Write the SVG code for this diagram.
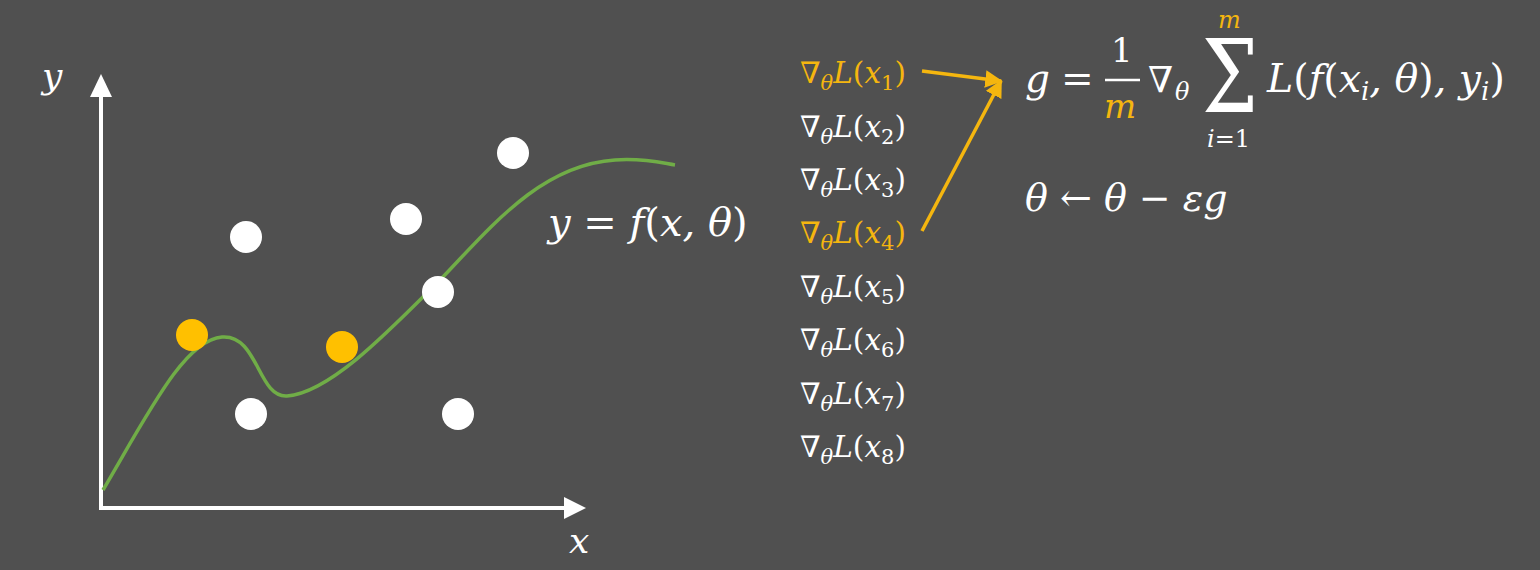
<svg xmlns="http://www.w3.org/2000/svg" width="1540" height="570" viewBox="0 0 1540 570">
<defs>
<style>
.m{font-family:"DejaVu Serif","Liberation Serif",serif;font-style:italic;fill:#ffffff}
.up{font-style:normal}
.o{fill:#F5B60F}
.g{font-size:29.5px}
.axis{stroke:#ffffff;stroke-width:4;fill:none}
.dotw{fill:#ffffff}
.doto{fill:#FFC000}
.oarr{stroke:#F5B60F;stroke-width:3.5;fill:none}
</style>
<marker id="ah" viewBox="0 0 10 10" refX="9" refY="5" markerWidth="5" markerHeight="5" orient="auto" markerUnits="strokeWidth">
<path d="M0,0 L10,5 L0,10 z" fill="#F5B60F"/>
</marker>
</defs>
<rect width="1540" height="570" fill="#505050"/>

<g id="axes">
<line class="axis" x1="101" y1="510" x2="101" y2="95"/>
<polygon points="90,97 112,97 101,74" fill="#ffffff"/>
<line class="axis" x1="99" y1="508" x2="566" y2="508"/>
<polygon points="564,497 564,519 586,508" fill="#ffffff"/>
<text class="m" x="42" y="88" font-size="36">y</text>
<text class="m" x="569" y="553" font-size="36">x</text>
</g>

<g id="curve">
<path d="M103,490 C150,410 185,340 222,337 C258,334 258,398 287,396 C330,393 390,330 440,280 C490,228 540,165 615,160 C645,158 662,163 675,165" stroke="#70AD47" stroke-width="3.5" fill="none"/>
</g>

<g id="points">
<circle class="dotw" cx="246" cy="237" r="16"/>
<circle class="dotw" cx="406" cy="219" r="16"/>
<circle class="dotw" cx="513" cy="153" r="16"/>
<circle class="dotw" cx="438" cy="292" r="16"/>
<circle class="dotw" cx="251" cy="414" r="16"/>
<circle class="dotw" cx="458" cy="414" r="16"/>
<circle class="doto" cx="192" cy="335" r="16"/>
<circle class="doto" cx="342" cy="347" r="16"/>
</g>

<g id="model-label">
<text class="m" x="548" y="236" font-size="40">y <tspan class="up">=</tspan> f<tspan class="up">(</tspan>x, θ<tspan class="up">)</tspan></text>
</g>

<g id="gradients">
<text class="m g o" x="800" y="83">∇<tspan dy="7" font-size="21">θ</tspan><tspan dy="-7">L<tspan class="up">(</tspan>x</tspan><tspan class="up" dy="7" font-size="21">1</tspan><tspan class="up" dy="-7">)</tspan></text>
<text class="m g" x="800" y="137">∇<tspan dy="7" font-size="21">θ</tspan><tspan dy="-7">L<tspan class="up">(</tspan>x</tspan><tspan class="up" dy="7" font-size="21">2</tspan><tspan class="up" dy="-7">)</tspan></text>
<text class="m g" x="800" y="190">∇<tspan dy="7" font-size="21">θ</tspan><tspan dy="-7">L<tspan class="up">(</tspan>x</tspan><tspan class="up" dy="7" font-size="21">3</tspan><tspan class="up" dy="-7">)</tspan></text>
<text class="m g o" x="800" y="243">∇<tspan dy="7" font-size="21">θ</tspan><tspan dy="-7">L<tspan class="up">(</tspan>x</tspan><tspan class="up" dy="7" font-size="21">4</tspan><tspan class="up" dy="-7">)</tspan></text>
<text class="m g" x="800" y="297">∇<tspan dy="7" font-size="21">θ</tspan><tspan dy="-7">L<tspan class="up">(</tspan>x</tspan><tspan class="up" dy="7" font-size="21">5</tspan><tspan class="up" dy="-7">)</tspan></text>
<text class="m g" x="800" y="350">∇<tspan dy="7" font-size="21">θ</tspan><tspan dy="-7">L<tspan class="up">(</tspan>x</tspan><tspan class="up" dy="7" font-size="21">6</tspan><tspan class="up" dy="-7">)</tspan></text>
<text class="m g" x="800" y="404">∇<tspan dy="7" font-size="21">θ</tspan><tspan dy="-7">L<tspan class="up">(</tspan>x</tspan><tspan class="up" dy="7" font-size="21">7</tspan><tspan class="up" dy="-7">)</tspan></text>
<text class="m g" x="800" y="457">∇<tspan dy="7" font-size="21">θ</tspan><tspan dy="-7">L<tspan class="up">(</tspan>x</tspan><tspan class="up" dy="7" font-size="21">8</tspan><tspan class="up" dy="-7">)</tspan></text>
</g>

<g id="connectors">
<line class="oarr" x1="922" y1="71" x2="1001" y2="81" marker-end="url(#ah)"/>
<line class="oarr" x1="922" y1="231" x2="1001" y2="81" marker-end="url(#ah)"/>
</g>

<g id="formula">
<text class="m" x="1025" y="92" font-size="39">g</text>
<text class="m up" x="1061" y="92" font-size="39">=</text>
<text class="m up" x="1111" y="62" font-size="34">1</text>
<line x1="1105" y1="80" x2="1140" y2="80" stroke="#ffffff" stroke-width="2.5"/>
<text class="m o" x="1104" y="118" font-size="34">m</text>
<text class="m" x="1148" y="92" font-size="36">∇</text>
<text class="m" x="1175" y="100" font-size="24">θ</text>
<text class="m up" transform="translate(1202,112) scale(1,1.1)" font-size="92" textLength="56" lengthAdjust="spacingAndGlyphs">Σ</text>
<text class="m o" x="1218" y="28" font-size="24">m</text>
<text class="m" x="1207" y="147" font-size="24">i<tspan class="up">=1</tspan></text>
<text class="m" x="1267" y="92" font-size="39.5">L<tspan class="up">(</tspan>f<tspan class="up">(</tspan>x<tspan dy="8" font-size="26">i</tspan><tspan dy="-8">, θ</tspan><tspan class="up">)</tspan>, y<tspan dy="8" font-size="26">i</tspan><tspan class="up" dy="-8">)</tspan></text>
</g>

<g id="update">
<text class="m" x="1025" y="211" font-size="38">θ <tspan class="up">←</tspan> θ <tspan class="up">−</tspan> εg</text>
</g>
</svg>
